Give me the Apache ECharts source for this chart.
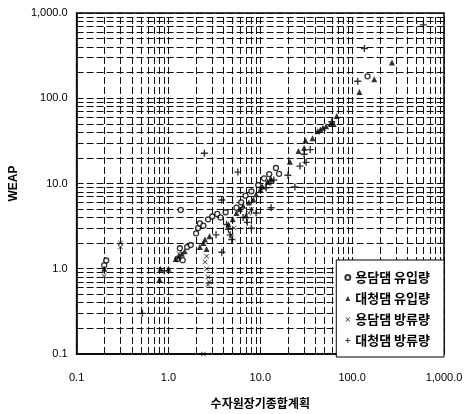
<!DOCTYPE html>
<html>
<head>
<meta charset="utf-8">
<script src="https://cdn.jsdelivr.net/npm/echarts@6/dist/echarts.min.js"></script>
<style>
    html, body { margin: 0; padding: 0; background: #fff; }
    #chart { width: 471px; height: 414px; }
</style>
</head>
<body>
<div id="chart"></div>
<script>
// 범례 이름
var seriesNames = ['용담댐 유입량', '대청댐 유입량', '용담댐 방류량', '대청댐 방류량'];

// 축 눈금 라벨
var xTickLabels = ['0.1', '1.0', '10.0', '100.0', '1,000.0'];
var yTickLabels = ['0.1', '1.0', '10.0', '100.0', '1,000.0'];

// [수자원장기종합계획, WEAP]
var yongdamInflow = [
    [0.2, 1.1], [0.21, 1.25], [1.25, 1.3], [1.33, 1.74], [1.43, 1.26], [1.36, 4.9],
    [1.6, 1.8], [1.75, 1.9], [2.0, 2.6], [2.1, 3.0], [2.2, 3.4], [2.4, 3.2],
    [2.7, 3.8], [3.0, 4.1], [3.4, 4.4], [3.7, 4.0], [4.2, 4.6], [5.5, 5.2],
    [6.2, 6.0], [6.9, 7.2], [8.0, 8.1], [9.5, 9.6], [11.0, 11.5], [12.5, 12.9],
    [14.8, 15.2], [16.0, 13.0], [147, 181]
];
var daecheongInflow = [
    [0.2, 1.0], [0.8, 0.75], [0.82, 1.0], [1.0, 1.0], [1.2, 1.3], [1.3, 1.4],
    [1.4, 1.5], [1.5, 1.6], [2.2, 1.8], [2.4, 2.0], [2.5, 2.2], [2.6, 1.7],
    [2.8, 2.4], [4.5, 3.3], [5.0, 3.8], [5.5, 4.5], [6.0, 5.0], [6.5, 5.5],
    [7.0, 4.2], [7.5, 6.0], [8.4, 6.5], [9.0, 7.5], [10.0, 8.5], [10.5, 9.2],
    [12.0, 10.5], [13.0, 11.5], [21, 18], [26, 24], [30, 26], [31, 32],
    [37, 34], [42, 41], [45, 43], [48, 45], [52, 47], [58, 50], [63, 50],
    [68, 62], [120, 118], [174, 167], [271, 263]
];
var yongdamRelease = [
    [0.2, 0.82], [0.3, 1.8], [0.3, 2.0], [2.4, 0.1], [2.5, 1.2], [2.6, 1.0],
    [2.7, 0.8], [2.7, 0.65], [2.8, 0.7], [2.6, 1.4], [1.3, 1.5], [4.8, 2.5],
    [5.2, 3.0], [7.5, 4.5], [8.0, 5.0], [11.0, 9.0], [12.0, 10.0]
];
var daecheongRelease = [
    [0.52, 0.3], [0.9, 0.95], [2.46, 22.6], [3.3, 2.5], [3.8, 1.56], [3.8, 6.4],
    [4.3, 3.3], [4.5, 2.9], [4.7, 2.5], [4.9, 2.2], [5.7, 13.6], [6.5, 4.0],
    [7.2, 3.5], [8.0, 3.0], [9.0, 4.5], [13.1, 5.2], [11.6, 8.9], [13.0, 10.5],
    [14.0, 11.0], [20.0, 12.5], [23.8, 9.1], [27, 16], [31.5, 17.7], [30, 22],
    [35, 25], [60, 53], [115, 158], [136, 383], [596, 726]
];

// 로그 격자선 위치 (각 자릿수의 1~9배)
var gridValues = [];
[0.1, 1, 10, 100].forEach(function (d) {
    for (var k = 1; k <= 9; k++) gridValues.push(+(k * d).toFixed(4));
});
gridValues.push(1000);

var gridLines = [];
gridValues.forEach(function (v) {
    gridLines.push({xAxis: v});
    gridLines.push({yAxis: v});
});

var chart = echarts.init(document.getElementById('chart'));

var font = '"Liberation Sans", Arial, sans-serif';
var krFont = '"Noto Sans CJK KR", sans-serif';

var xMark = 'path://M0,1L1,0L5,4L9,0L10,1L6,5L10,9L9,10L5,6L1,10L0,9L4,5Z';
var plusMark = 'path://M4,0H6V4H10V6H6V10H4V6H0V4H4Z';

chart.setOption({
    animation: false,
    backgroundColor: '#fff',
    grid: {
        left: 70, right: 27, top: 13, bottom: 56,
        show: true, borderColor: '#000', borderWidth: 1.5
    },
    legend: {
        data: seriesNames,
        orient: 'vertical',
        right: 27, bottom: 57,
        backgroundColor: '#fff',
        borderColor: '#000', borderWidth: 1,
        padding: [11, 14, 10, 8],
        itemGap: 8,
        itemWidth: 5, itemHeight: 5,
        selectedMode: false,
        textStyle: {fontFamily: krFont, fontSize: 13, fontWeight: 'bold', color: '#000'}
    },
    xAxis: {
        type: 'log', logBase: 10, min: 0.1, max: 1000,
        name: '수자원장기종합계획',
        nameLocation: 'middle', nameGap: 43,
        nameTextStyle: {fontFamily: krFont, fontSize: 12, fontWeight: 'bold', color: '#000'},
        axisLine: {lineStyle: {color: '#000', width: 1.5}},
        axisTick: {show: false},
        splitLine: {show: false},
        axisLabel: {
            margin: 18, color: '#000', fontFamily: font, fontSize: 11,
            formatter: function (v, i) { return xTickLabels[i]; }
        }
    },
    yAxis: {
        type: 'log', logBase: 10, min: 0.1, max: 1000,
        name: 'WEAP',
        nameLocation: 'middle', nameGap: 40, nameRotate: 90,
        nameTextStyle: {fontFamily: font, fontSize: 12, fontWeight: 'bold', color: '#000'},
        axisLine: {lineStyle: {color: '#000', width: 1.5}},
        axisTick: {show: false},
        splitLine: {show: false},
        axisLabel: {
            margin: 9, color: '#000', fontFamily: font, fontSize: 11,
            formatter: function (v, i) { return yTickLabels[i]; }
        }
    },
    series: [
        {
            name: seriesNames[0], type: 'scatter', data: yongdamInflow,
            symbol: 'circle', symbolSize: 5,
            itemStyle: {color: '#fff', borderColor: '#000', borderWidth: 1.3},
            z: 5,
            markLine: {
                silent: true, symbol: 'none', label: {show: false},
                lineStyle: {color: '#111', width: 1, type: [7, 3]},
                data: gridLines,
                z: 1
            }
        },
        {
            name: seriesNames[1], type: 'scatter', data: daecheongInflow,
            symbol: 'triangle', symbolSize: 6,
            itemStyle: {color: '#000'}, z: 5
        },
        {
            name: seriesNames[2], type: 'scatter', data: yongdamRelease,
            symbol: xMark, symbolSize: 5,
            itemStyle: {color: '#000'}, z: 5
        },
        {
            name: seriesNames[3], type: 'scatter', data: daecheongRelease,
            symbol: plusMark, symbolSize: 7,
            itemStyle: {color: '#000'}, z: 5
        }
    ]
});
</script>
</body>
</html>
